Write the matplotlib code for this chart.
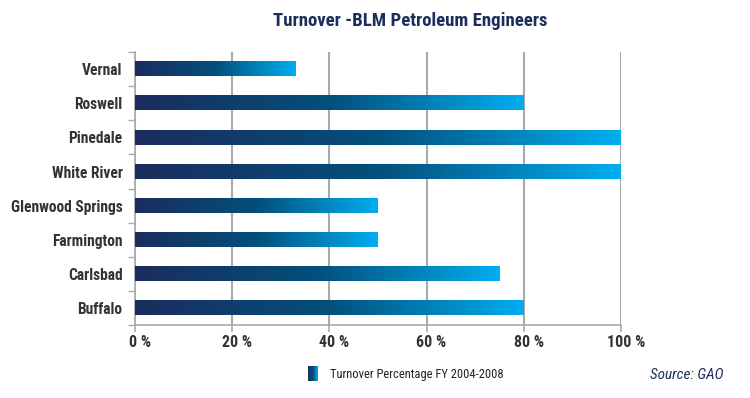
import numpy as np
import matplotlib.pyplot as plt
import matplotlib.transforms as mtransforms
from matplotlib.colors import LinearSegmentedColormap

# Données du graphique
offices = ["Vernal", "Roswell", "Pinedale", "White River",
           "Glenwood Springs", "Farmington", "Carlsbad", "Buffalo"]
turnover = [33, 80, 100, 100, 50, 50, 75, 80]
xticks = [0, 20, 40, 60, 80, 100]
xtick_labels = ["0 %", "20 %", "40 %", "60 %", "80 %", "100 %"]

plt.rcParams['font.family'] = ['Roboto Condensed', 'Liberation Sans', 'DejaVu Sans']

navy = "#1c2f5c"
cmap = LinearSegmentedColormap.from_list("grad", ["#1b2d5e", "#034f7b", "#00aeef"])
grad = np.linspace(0, 1, 256).reshape(1, -1)

fig = plt.figure(figsize=(7.5, 3.98), dpi=100)
ax = fig.add_axes([0.18, 0.1834, 0.648, 0.6856])

n = len(offices)
ypos = np.arange(n)[::-1]
h = 0.42
for y, v in zip(ypos, turnover):
    ax.imshow(grad, cmap=cmap, aspect="auto", extent=[0, v, y - h / 2, y + h / 2], zorder=3)

ax.set_xlim(0, 100)
ax.set_ylim(-0.5, n - 0.5)

ax.set_yticks(ypos)
ax.set_yticklabels(offices, fontsize=11.2, fontweight="bold", color="#333333")
ax.set_yticks(np.arange(-0.5, n, 1), minor=True)
ax.tick_params(axis="y", which="major", length=0, pad=9)
ax.tick_params(axis="y", which="minor", length=5, color="#aaaaaa", width=1)

ax.set_xticks(xticks)
ax.set_xticklabels(xtick_labels, fontsize=11.5, fontweight="bold", color="#333333")
ax.tick_params(axis="x", length=5, color="#aaaaaa", width=1.2, pad=2)
# décalage léger des étiquettes vers la droite
shift = mtransforms.ScaledTranslation(5 / 100, 0, fig.dpi_scale_trans)
for lbl in ax.get_xticklabels():
    lbl.set_transform(lbl.get_transform() + shift)

ax.grid(axis="x", color="#aaaaaa", linewidth=1.5, zorder=1)
for s in ["top", "right"]:
    ax.spines[s].set_visible(False)
for s in ["left", "bottom"]:
    ax.spines[s].set_color("#aaaaaa")
    ax.spines[s].set_linewidth(1.2)

fig.text(0.547, 0.948, "Turnover -BLM Petroleum Engineers", ha="center", va="center",
         fontsize=13.5, fontweight="bold", color=navy)

# Légende avec carré en dégradé
lax = fig.add_axes([0.411, 0.043, 0.013, 0.037])
lax.imshow(grad, cmap=cmap, aspect="auto")
lax.axis("off")
fig.text(0.44, 0.06, "Turnover Percentage FY 2004-2008", ha="left", va="center",
         fontsize=9, color="#222222")
fig.text(0.965, 0.058, "Source: GAO", ha="right", va="center",
         fontsize=11, style="italic", color=navy)

fig.savefig("out.png", dpi=100)
